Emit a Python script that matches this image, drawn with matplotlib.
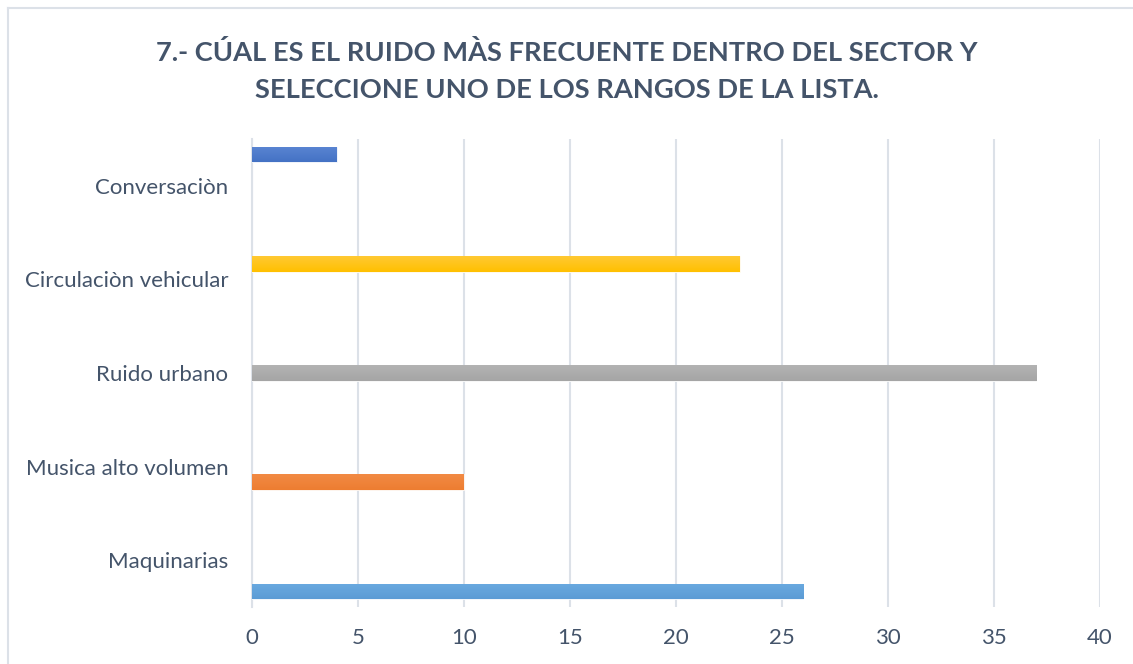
import matplotlib
matplotlib.use("Agg")
import matplotlib.pyplot as plt
import numpy as np
from matplotlib.colors import LinearSegmentedColormap
from matplotlib.lines import Line2D

# categories bottom -> top, one series per category (Excel clustered bar)
categories = ['Maquinarias', 'Musica alto volumen', 'Ruido urbano',
              'Circulaciòn vehicular', 'Conversaciòn']
values = [26, 10, 37, 23, 4]
colors = ['#5B9BD5', '#ED7D31', '#A5A5A5', '#FFC000', '#4472C4']
light = ['#6AAAE0', '#F28A44', '#B3B3B3', '#FFC933', '#5A85D3']
xticks = [0, 5, 10, 15, 20, 25, 30, 35, 40]
title = '7.- CÚAL ES EL RUIDO MÀS FRECUENTE DENTRO DEL SECTOR Y\nSELECCIONE UNO DE LOS RANGOS DE LA LISTA.'

txt = '#44546A'
grid_c = '#DCE1E8'

plt.rcParams['font.family'] = ['Lato', 'DejaVu Sans']

fig = plt.figure(figsize=(11.33, 6.64), dpi=100)
ax = fig.add_axes([252/1133, 1 - 607/664, 848/1133, 468/664])

n = len(categories)
slot = 1.0 / 6
y = np.arange(n)
for i in range(n):
    vals = [values[i] if j == i else 0 for j in range(n)]
    bars = ax.barh(y + (i - 2) * slot, vals, height=slot, color=colors[i],
                   edgecolor='none', linewidth=0, zorder=3)
    cmap = LinearSegmentedColormap.from_list('g%d' % i, [colors[i], light[i]])
    for b in bars:
        if b.get_width() == 0:
            continue
        b.set_edgecolor('white')
        b.set_linewidth(0.6)
        x0, y0 = b.get_x(), b.get_y()
        w, h = b.get_width(), b.get_height()
        grad = np.linspace(0, 1, 50).reshape(-1, 1)
        im = ax.imshow(grad, extent=[x0, x0 + w, y0, y0 + h], aspect='auto',
                       cmap=cmap, origin='lower', zorder=3.5)
        im.set_clip_path(b)

ax.set_xlim(0, 40)
ax.set_ylim(-0.5, n - 0.5)
ax.set_xticks(xticks)
ax.set_yticks(y)
ax.set_yticklabels(categories)
ax.grid(axis='x', color=grid_c, linewidth=1.5, zorder=0)
ax.grid(axis='y', visible=False)
for s in ['top', 'right', 'bottom']:
    ax.spines[s].set_visible(False)
ax.spines['left'].set_color(grid_c)
ax.spines['left'].set_linewidth(1.5)
ax.tick_params(axis='both', length=0, labelsize=16, colors=txt)
ax.tick_params(axis='y', pad=17)
ax.tick_params(axis='x', pad=15)

fig.text(0.5, 1 - 71/664, title, ha='center', va='center', fontsize=19.6,
         fontweight='bold', color=txt, linespacing=1.62)

# chart border (only top and left visible in the crop)
fig.add_artist(Line2D([8/1133, 1], [1 - 8/664, 1 - 8/664], color=grid_c, lw=1.5))
fig.add_artist(Line2D([8/1133, 8/1133], [0, 1 - 8/664], color=grid_c, lw=1.5))

fig.savefig('out.png', dpi=100)
